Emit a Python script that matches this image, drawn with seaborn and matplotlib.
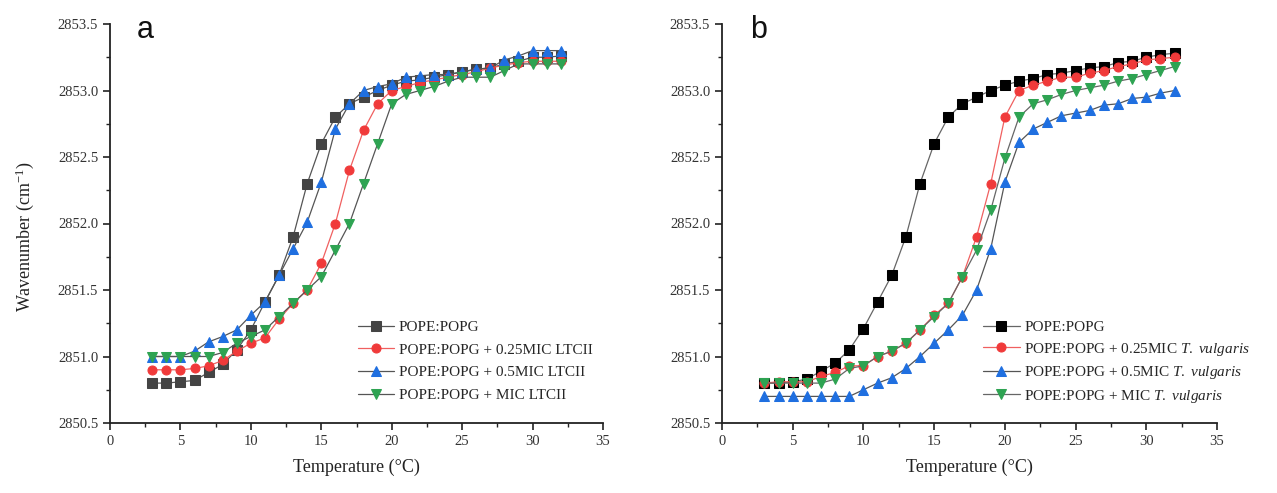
import numpy as np
import pandas as pd
import matplotlib
matplotlib.use("Agg")
import matplotlib.pyplot as plt
from matplotlib.ticker import MultipleLocator, FormatStrFormatter
import seaborn as sns

temperature = list(range(3, 33))

# Panel a
a_labels = ["POPE:POPG", "POPE:POPG + 0.25MIC LTCII",
            "POPE:POPG + 0.5MIC LTCII", "POPE:POPG + MIC LTCII"]
a_ctrl = [2850.80, 2850.80, 2850.81, 2850.82, 2850.88, 2850.94, 2851.05, 2851.20, 2851.41, 2851.61,
          2851.90, 2852.30, 2852.60, 2852.80, 2852.90, 2852.95, 2853.00, 2853.04, 2853.07, 2853.08,
          2853.10, 2853.12, 2853.14, 2853.16, 2853.17, 2853.20, 2853.22, 2853.25, 2853.25, 2853.26]
a_025 = [2850.90, 2850.90, 2850.90, 2850.91, 2850.93, 2850.97, 2851.04, 2851.10, 2851.14, 2851.28,
         2851.40, 2851.50, 2851.70, 2852.00, 2852.40, 2852.70, 2852.90, 2853.00, 2853.03, 2853.06,
         2853.08, 2853.10, 2853.12, 2853.14, 2853.17, 2853.19, 2853.21, 2853.22, 2853.22, 2853.22]
a_05 = [2851.00, 2851.00, 2851.00, 2851.04, 2851.11, 2851.15, 2851.20, 2851.31, 2851.41, 2851.61,
        2851.81, 2852.01, 2852.31, 2852.71, 2852.90, 2853.00, 2853.03, 2853.05, 2853.10, 2853.11,
        2853.12, 2853.12, 2853.14, 2853.16, 2853.17, 2853.23, 2853.26, 2853.30, 2853.30, 2853.30]
a_1 = [2851.00, 2851.00, 2851.00, 2851.00, 2851.00, 2851.03, 2851.10, 2851.15, 2851.20, 2851.30,
       2851.40, 2851.50, 2851.60, 2851.80, 2852.00, 2852.30, 2852.60, 2852.90, 2852.97, 2853.00,
       2853.03, 2853.07, 2853.10, 2853.10, 2853.10, 2853.15, 2853.20, 2853.20, 2853.20, 2853.20]

# Panel b
b_labels = ["POPE:POPG", "POPE:POPG + 0.25MIC $\\it{T.\\ vulgaris}$",
            "POPE:POPG + 0.5MIC $\\it{T.\\ vulgaris}$", "POPE:POPG + MIC $\\it{T.\\ vulgaris}$"]
b_ctrl = [2850.80, 2850.80, 2850.81, 2850.83, 2850.89, 2850.95, 2851.05, 2851.21, 2851.41, 2851.61,
          2851.90, 2852.30, 2852.60, 2852.80, 2852.90, 2852.95, 2853.00, 2853.04, 2853.07, 2853.09,
          2853.12, 2853.13, 2853.15, 2853.17, 2853.18, 2853.21, 2853.22, 2853.25, 2853.27, 2853.28]
b_025 = [2850.80, 2850.81, 2850.81, 2850.81, 2850.85, 2850.88, 2850.93, 2850.93, 2851.00, 2851.04,
         2851.10, 2851.20, 2851.31, 2851.40, 2851.60, 2851.90, 2852.30, 2852.80, 2853.00, 2853.04,
         2853.07, 2853.10, 2853.10, 2853.13, 2853.15, 2853.18, 2853.20, 2853.23, 2853.24, 2853.25]
b_05 = [2850.70, 2850.70, 2850.70, 2850.70, 2850.70, 2850.70, 2850.70, 2850.75, 2850.80, 2850.84,
        2850.91, 2851.00, 2851.10, 2851.20, 2851.31, 2851.50, 2851.81, 2852.31, 2852.61, 2852.71,
        2852.76, 2852.81, 2852.83, 2852.85, 2852.89, 2852.90, 2852.94, 2852.95, 2852.98, 2853.00]
b_1 = [2850.80, 2850.80, 2850.80, 2850.80, 2850.80, 2850.83, 2850.91, 2850.93, 2851.00, 2851.04,
       2851.10, 2851.20, 2851.30, 2851.40, 2851.60, 2851.80, 2852.10, 2852.49, 2852.80, 2852.90,
       2852.93, 2852.97, 2853.00, 2853.02, 2853.04, 2853.07, 2853.09, 2853.12, 2853.15, 2853.18]

sns.set_theme(style="ticks")
plt.rcParams['font.family'] = ['Liberation Serif', 'DejaVu Serif']
plt.rcParams['mathtext.fontset'] = 'custom'
plt.rcParams['mathtext.it'] = 'Liberation Serif:italic'
plt.rcParams['mathtext.rm'] = 'Liberation Serif'

fig = plt.figure(figsize=(12.77, 4.93), dpi=100)
ax_a = fig.add_axes([110 / 1277, 70 / 493, 493 / 1277, 399 / 493])
ax_b = fig.add_axes([722 / 1277, 70 / 493, 495 / 1277, 399 / 493])

markers = ["s", "o", "^", "v"]
face_a = ["#444444", "#f03a3a", "#1f6fe0", "#2ea352"]
face_b = ["#000000", "#f03a3a", "#1f6fe0", "#2ea352"]
line_a = ["#555555", "#f06060", "#555555", "#555555"]
line_b = ["#666666", "#f06060", "#555555", "#666666"]

def draw(ax, series, labels, faces, lines, legend_x, spacing):
    for vals, lab, m, fc, lc in zip(series, labels, markers, faces, lines):
        df = pd.DataFrame({"T": temperature, "W": vals})
        sns.lineplot(data=df, x="T", y="W", ax=ax, color=lc, linewidth=0.9,
                     marker=m, markersize=6.5, markerfacecolor=fc, markeredgecolor=fc,
                     label=lab)
    ax.set_xlim(0, 35)
    ax.set_ylim(2850.5, 2853.5)
    ax.xaxis.set_major_locator(MultipleLocator(5))
    ax.xaxis.set_minor_locator(MultipleLocator(2.5))
    ax.yaxis.set_major_locator(MultipleLocator(0.5))
    ax.yaxis.set_minor_locator(MultipleLocator(0.25))
    ax.yaxis.set_major_formatter(FormatStrFormatter("%.1f"))
    for s in ["top", "right"]:
        ax.spines[s].set_visible(False)
    for s in ["left", "bottom"]:
        ax.spines[s].set_color("#222222")
        ax.spines[s].set_linewidth(1.3)
    ax.tick_params(which="major", direction="out", length=5, width=1.2,
                   labelsize=10.5, colors="#222222", labelcolor="#333333")
    ax.tick_params(which="minor", direction="out", length=3, width=1.0, colors="#222222")
    ax.set_xlabel("Temperature (°C)", fontsize=13, color="#222222", labelpad=8)
    ax.set_ylabel("")
    ax.legend(loc="upper left", bbox_to_anchor=(legend_x, 0.272), frameon=False,
              fontsize=11, handlelength=2.4, handletextpad=0.3, labelspacing=spacing,
              borderaxespad=0, markerscale=1.0)

draw(ax_a, [a_ctrl, a_025, a_05, a_1], a_labels, face_a, line_a, 0.49, 0.58)
draw(ax_b, [b_ctrl, b_025, b_05, b_1], b_labels, face_b, line_b, 0.515, 0.42)

ax_a.set_ylabel("Wavenumber (cm$^{-1}$)", fontsize=13, color="#222222")
ax_a.yaxis.set_label_coords(-0.15, 0.466)

fig.text(137 / 1277, 1 - 30 / 493, "a", fontsize=22, family="Liberation Sans",
         ha="left", va="center", color="#111111")
fig.text(750 / 1277, 1 - 30 / 493, "b", fontsize=22, family="Liberation Sans",
         ha="left", va="center", color="#111111")

fig.savefig("out.png", dpi=100)
